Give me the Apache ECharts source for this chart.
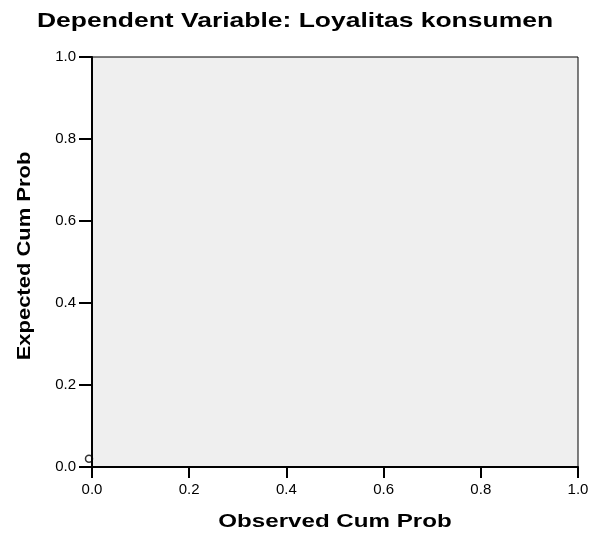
<!DOCTYPE html>
<html>
<head>
<meta charset="utf-8">
<script src="https://cdn.jsdelivr.net/npm/echarts@6/dist/echarts.min.js"></script>
<style>
  html, body { margin: 0; padding: 0; background: #fff; }
  #chart { width: 595px; height: 535px; }
</style>
</head>
<body>
<div id="chart"></div>
<script>
// P-P plot, only one point shows near the origin
const titleText = 'Dependent Variable: Loyalitas konsumen'
const xName = 'Observed Cum Prob'
const yName = 'Expected Cum Prob'
const observed = [0.0]
const expected = [0.02]

const font = '"Liberation Sans", Arial, sans-serif'
const boldFont = size => 'bold ' + size + 'px ' + font

const chart = echarts.init(document.getElementById('chart'))

chart.setOption({
  animation: false,
  // the source text is a bit stretched sideways, so draw it with scaleX
  graphic: [
    {
      type: 'text', x: 295, y: 21, scaleX: 1.26,
      style: { text: titleText, font: boldFont(21), fill: '#000', align: 'center', verticalAlign: 'middle' }
    },
    {
      type: 'text', x: 335, y: 522, scaleX: 1.27,
      style: { text: xName, font: boldFont(19), fill: '#000', align: 'center', verticalAlign: 'middle' }
    },
    {
      type: 'text', x: 25, y: 256, rotation: Math.PI / 2, scaleX: 1.22,
      style: { text: yName, font: boldFont(18), fill: '#000', align: 'center', verticalAlign: 'middle' }
    }
  ],
  grid: {
    left: 92,
    right: 17,
    top: 57,
    bottom: 68,
    show: true,
    backgroundColor: '#efefef',
    borderColor: '#000',
    borderWidth: 1
  },
  xAxis: {
    type: 'value',
    min: 0,
    max: 1,
    interval: 0.2,
    axisLine: { show: true, lineStyle: { color: '#000', width: 2 } },
    axisTick: { show: true, length: 11, lineStyle: { color: '#000', width: 2 } },
    axisLabel: {
      fontFamily: font, fontSize: 15, color: '#000', margin: 15,
      formatter: v => v.toFixed(1)
    },
    splitLine: { show: false }
  },
  yAxis: {
    type: 'value',
    min: 0,
    max: 1,
    interval: 0.2,
    axisLine: { show: true, lineStyle: { color: '#000', width: 2 } },
    axisTick: { show: true, length: 13, lineStyle: { color: '#000', width: 2 } },
    axisLabel: {
      fontFamily: font, fontSize: 15, color: '#000', margin: 16,
      formatter: v => v.toFixed(1)
    },
    splitLine: { show: false }
  },
  series: [
    {
      type: 'scatter',
      clip: false,
      symbol: 'circle',
      symbolSize: 7,
      symbolOffset: [-3, 0],
      itemStyle: { color: 'transparent', borderColor: '#000', borderWidth: 1.5 },
      data: observed.map((x, i) => [x, expected[i]])
    }
  ]
})
</script>
</body>
</html>
